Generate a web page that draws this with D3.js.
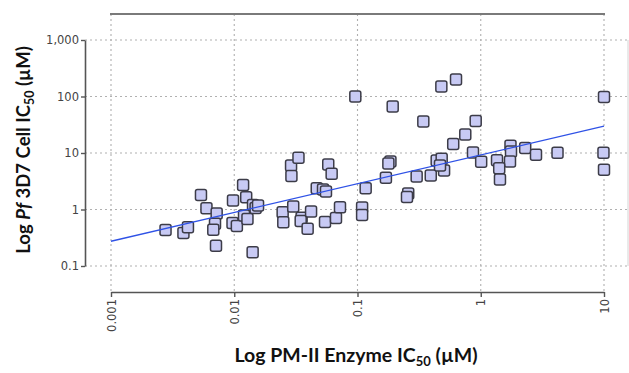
<!DOCTYPE html>
<html>
<head>
<meta charset="utf-8">
<script src="https://cdn.jsdelivr.net/npm/d3@7"></script>
<style>
  body { margin: 0; background: #fff; }
  svg { display: block; }
  .tick text { font-family: "DejaVu Sans", sans-serif; font-size: 11.5px; fill: #444; }
  .title { font-family: Lato, "Open Sans", sans-serif; font-weight: bold; fill: #111; }
</style>
</head>
<body>
<div id="chart"></div>
<script>
// enzyme IC50 (uM)
const enzymeIC50 = [
  0.00277, 0.00387, 0.00421, 0.00537, 0.00595, 0.0072, 0.00698, 0.00676, 0.00711,
  0.00977, 0.00968, 0.0105, 0.0118, 0.0125, 0.0142, 0.012, 0.0128, 0.0149, 0.0141, 0.0156,
  0.0289, 0.0291, 0.0332, 0.0467, 0.0525, 0.0555, 0.0579, 0.0617,
  0.0247, 0.025, 0.0301, 0.0352, 0.0346, 0.0394, 0.042, 0.0545, 0.0669, 0.0721,
  0.109, 0.109, 0.1165, 0.185, 0.178, 0.17, 0.258, 0.252,
  0.096, 0.193, 0.342, 0.479, 0.63, 0.91, 0.749, 0.598, 0.865, 1.008,
  0.302, 0.393, 0.439, 0.482, 0.504, 0.467,
  1.743, 1.76, 1.727, 1.355, 1.412, 1.432, 2.294, 2.807, 4.196,
  10, 9.9, 10
];
// cell IC50 (uM), same order
const cellIC50 = [
  0.434, 0.384, 0.486, 1.806, 1.054, 0.85, 0.558, 0.437, 0.228,
  1.443, 0.577, 0.511, 2.715, 1.651, 1.201, 0.783, 0.679, 1.063, 0.175, 1.177,
  6.01, 3.92, 8.22, 2.38, 2.26, 2.08, 6.26, 4.28,
  0.896, 0.596, 1.13, 0.713, 0.626, 0.455, 0.922, 0.601, 0.707, 1.098,
  1.085, 0.799, 2.38, 7.07, 6.52, 3.64, 1.92, 1.66,
  100, 66.5, 36.1, 150, 200, 36.8, 21.2, 14.5, 10.2, 6.98,
  3.84, 4.0, 7.37, 7.89, 4.9, 6.01,
  13.5, 10.6, 7.07, 7.46, 5.36, 3.4, 12.2, 9.33, 10.1,
  98, 10.1, 5.04
];
const xTicks = [0.001, 0.01, 0.1, 1, 10];
const yTicks = [0.1, 1, 10, 100, 1000];
// fitted line: log10(y) = a + b * log10(x)
const fitA = 0.965, fitB = 0.509;

const W = 629, H = 373;
const svg = d3.select('#chart').append('svg').attr('width', W).attr('height', H);

const x = d3.scaleLog().domain([0.001, 10]).range([111, 604]);
const y = d3.scaleLog().domain([0.1, 1000]).range([266, 40]);
const axisY = 292, axisX = 85;

// grid
const grid = svg.append('g').attr('stroke', '#b0b0b0').attr('stroke-width', 1.1)
  .attr('stroke-dasharray', '2,3');
grid.selectAll('.vg').data(xTicks).enter().append('line')
  .attr('x1', d => x(d)).attr('x2', d => x(d))
  .attr('y1', 14).attr('y2', axisY);
grid.selectAll('.hg').data(yTicks).enter().append('line')
  .attr('x1', axisX).attr('x2', 628)
  .attr('y1', d => y(d)).attr('y2', d => y(d));

// frame bits
svg.append('line').attr('x1', x(0.001) - 1).attr('x2', x(10) + 1).attr('y1', 14).attr('y2', 14)
  .attr('stroke', '#7a7a7a').attr('stroke-width', 2);
svg.append('line').attr('x1', 628).attr('x2', 628).attr('y1', y(1000)).attr('y2', y(0.1))
  .attr('stroke', '#d4d4d4').attr('stroke-width', 1);

// axes
const fmt = d3.format(',');
const yAxis = d3.axisLeft(y).tickValues(yTicks).tickFormat(d => fmt(d))
  .tickSizeInner(4).tickSizeOuter(0).tickPadding(2);
const gy = svg.append('g').attr('transform', `translate(${axisX},0)`).call(yAxis);
const xAxis = d3.axisBottom(x).tickValues(xTicks).tickFormat(d => String(d))
  .tickSizeInner(5).tickSizeOuter(0).tickPadding(2);
const gx = svg.append('g').attr('transform', `translate(0,${axisY})`).call(xAxis);
gx.selectAll('.tick text')
  .attr('transform', 'rotate(-90)')
  .attr('text-anchor', 'end')
  .attr('x', -7).attr('y', 0).attr('dy', '0.35em');
[gx, gy].forEach(g => {
  g.select('.domain').attr('stroke', '#555').attr('stroke-width', 1.6);
  g.selectAll('.tick line').attr('stroke', '#555').attr('stroke-width', 1.4);
});

// points
const pts = enzymeIC50.map((v, i) => ({ ex: v, cell: cellIC50[i] }));
const s = 11;
svg.append('g').selectAll('rect').data(pts).enter().append('rect')
  .attr('x', d => x(d.ex) - s / 2).attr('y', d => y(d.cell) - s / 2)
  .attr('width', s).attr('height', s).attr('rx', 2)
  .attr('fill', '#c8caf4').attr('stroke', '#3c3c48').attr('stroke-width', 1.5);

// fit line
const fitX = [0.001, 10];
svg.append('path')
  .datum(fitX.map(v => [v, Math.pow(10, fitA + fitB * Math.log10(v))]))
  .attr('d', d3.line().x(d => x(d[0])).y(d => y(d[1])))
  .attr('fill', 'none').attr('stroke', '#2f52e6').attr('stroke-width', 1.3);

// titles
const xt = svg.append('text').attr('class', 'title').attr('font-size', 19.5)
  .attr('x', 356).attr('y', 362).attr('text-anchor', 'middle');
xt.append('tspan').text('Log PM-II Enzyme IC');
xt.append('tspan').attr('font-size', 13).attr('dy', 4).text('50');
xt.append('tspan').attr('dy', -4).text(' (µM)');

const yt = svg.append('text').attr('class', 'title').attr('font-size', 18.5)
  .attr('transform', 'translate(30,150) rotate(-90)').attr('text-anchor', 'middle');
yt.append('tspan').text('Log ');
yt.append('tspan').attr('font-style', 'italic').text('Pf');
yt.append('tspan').text(' 3D7 Cell IC');
yt.append('tspan').attr('font-size', 12.5).attr('dy', 4).text('50');
yt.append('tspan').attr('dy', -4).text(' (µM)');
</script>
</body>
</html>
